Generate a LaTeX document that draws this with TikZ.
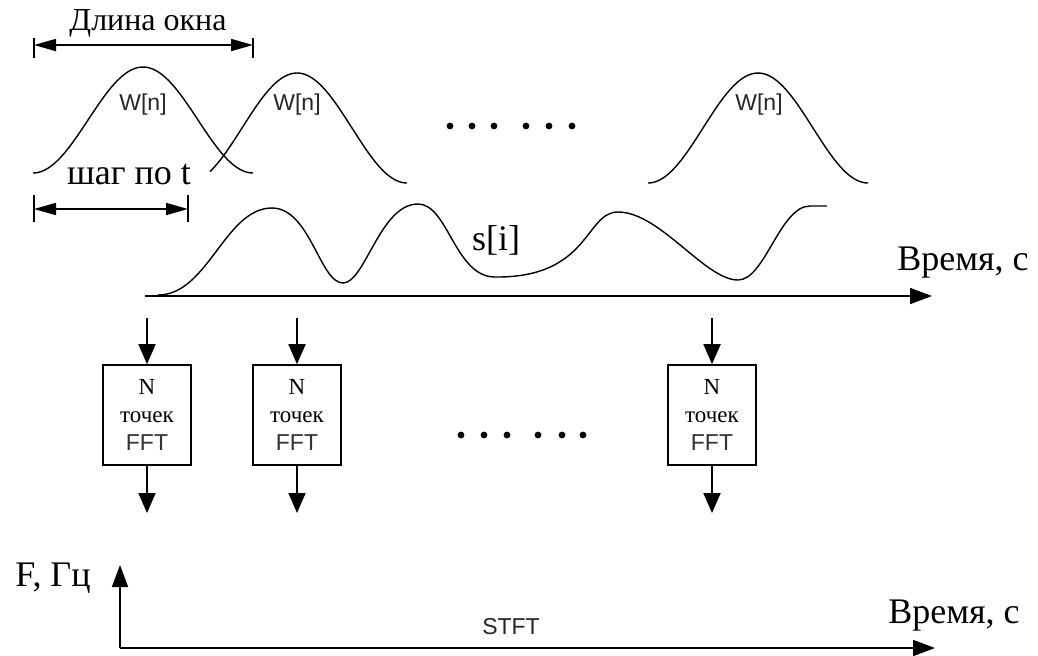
\documentclass[tikz,border=0pt]{standalone}
\usepackage{fontspec}
\setmainfont{Liberation Serif}
\setsansfont{Liberation Sans}
\usetikzlibrary{arrows.meta, positioning}

\begin{document}
\begin{tikzpicture}[
  x=0.5pt, y=-0.5pt,
  every node/.style={inner sep=1pt},
  lbl/.style={font=\fontsize{18}{21}\selectfont},
  wlbl/.style={font=\sffamily\fontsize{11.5}{13}\selectfont, text=black!85},
  win/.style={line width=0.7pt},
  sig/.style={line width=0.7pt},
  fftbox/.style={draw, line width=0.8pt, minimum width=44pt, minimum height=50pt,
                 align=center, inner sep=0pt, font=\fontsize{11.5}{14}\selectfont},
  axis/.style={line width=0.9pt, -{Triangle[length=11pt, width=8pt]}},
  arr/.style={line width=0.9pt, -{Triangle[length=10pt, width=8.5pt]}},
  dimarr/.style={line width=0.9pt,
                 {Triangle[length=11pt, width=6pt]}-{Triangle[length=11pt, width=6pt]}},
]
\useasboundingbox (0,0) rectangle (1038,655);

% Window length and step
\coordinate (wl) at (34,45);
\coordinate (wr) at (253,45);
\node[lbl, font=\fontsize{16}{19}\selectfont] (winlen) at (148,23) {Длина окна};
\draw[dimarr] (wl) -- (wr);
\draw[line width=0.9pt] (wl) ++(0,-7) -- ++(0,20);
\draw[line width=0.9pt] (wr) ++(0,-7) -- ++(0,20);

\coordinate (sl) at (34,209);
\coordinate (sr) at (188,209);
\node[lbl] (step) at (129,175) {шаг по t};
\draw[dimarr] (sl) -- (sr);
\draw[line width=0.9pt] (sl) ++(0,-14) -- ++(0,27);
\draw[line width=0.9pt] (sr) ++(0,-14) -- ++(0,27);

% Windows
\draw[win] plot[domain=33:253, samples=80]
  (\x, {173-106*(0.5-0.5*cos(1.63636*(\x-33)))});
\draw[win] plot[domain=210:407, samples=80]
  (\x, {183-110*(0.5-0.5*cos(1.63636*(\x-187)))});
\draw[win] plot[domain=648:868, samples=80]
  (\x, {183-110*(0.5-0.5*cos(1.63636*(\x-648)))});
\node[wlbl] (w1) at (143,105) {W[n]};
\node[wlbl] (w2) at (297,105) {W[n]};
\node[wlbl] (w3) at (759,105) {W[n]};
\foreach \d in {450,472,494,526,549,572}
  \fill (\d,126) circle (1.7pt);

% Signal and time axis
\draw[sig] (158,295) .. controls (208,295) and (225,208) .. (272,208)
  .. controls (310,208) and (320,283) .. (343,283)
  .. controls (365,283) and (380,204) .. (418,204)
  .. controls (448,204) and (455,277) .. (495,277)
  .. controls (590,278) and (585,212) .. (618,212)
  .. controls (660,212) and (705,280) .. (738,280)
  .. controls (765,280) and (780,206) .. (810,206) -- (827,206);
\node[lbl] (sig) at (496,240) {s[i]};
\coordinate (t0) at (145,296);
\coordinate (t1) at (932,296);
\draw[axis] (t0) -- (t1);
\node[lbl] (time1) at (963,263) {Время, с};

% FFT blocks
\node[fftbox] (fft1) at (147,415) {N\\точек\\{\sffamily\color{black!80}FFT}};
\node[fftbox] (fft2) at (297,415) {N\\точек\\{\sffamily\color{black!80}FFT}};
\node[fftbox] (fft3) at (712,415) {N\\точек\\{\sffamily\color{black!80}FFT}};
\foreach \b in {1,2,3} {
  \coordinate (in\b) at (fft\b.north |- 0,318);
  \coordinate (out\b) at (fft\b.south |- 0,513);
  \draw[arr] (in\b) -- (fft\b.north);
  \draw[arr] (fft\b.south) -- (out\b);
}
\foreach \d in {461,484,507,538,562,583}
  \fill (\d,435) circle (1.7pt);

% STFT plane
\coordinate (o) at (120,648);
\coordinate (fy) at (120,565);
\coordinate (fx) at (935,648);
\draw[axis] (o) -- (fy);
\draw[axis] (o) -- (fx);
\node[lbl] (freq) at (53,578) {F, Гц};
\node[lbl] (time2) at (954,616) {Время, с};
\node[wlbl] (stft) at (511,627) {STFT};

\end{tikzpicture}
\end{document}
